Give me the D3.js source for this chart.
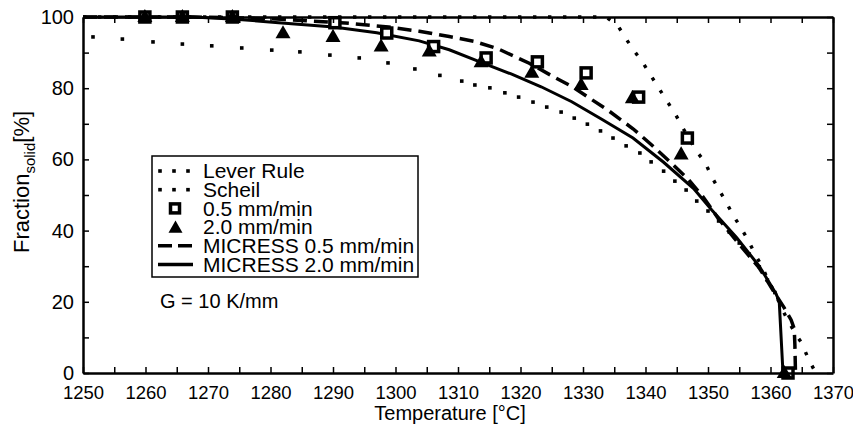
<!DOCTYPE html>
<html><head><meta charset="utf-8">
<script src="https://cdn.jsdelivr.net/npm/d3@7"></script>
<style>
body{margin:0;background:#fff}
text{font-family:"Liberation Sans",Arial,sans-serif;fill:#000}
</style>
</head><body>
<svg id="c" width="853" height="432"></svg>
<script>
// ---- data (temperature °C, fraction solid %) ----
const xTicks = [1250,1260,1270,1280,1290,1300,1310,1320,1330,1340,1350,1360,1370];
const yTicks = [0,20,40,60,80,100];
const leverRule = [[1250,100],[1333.7,100],[1335.6,97.5],[1336.8,94.1],[1338.1,90.7],[1339.5,87.4],[1340.8,83.7],[1342.1,80.1],[1343.3,76.7],[1344.6,73.3],[1345.7,69.7],[1348.1,62.4],[1349.5,59.3],[1350.6,55.1],[1351.7,51.7],[1352.9,48.0],[1354.0,44.4],[1355.3,40.7],[1356.5,37.1],[1357.5,33.4],[1358.7,29.8],[1359.6,26.1],[1360.7,22.5],[1361.6,19],[1362.5,15.7],[1364.1,10.7],[1365.0,8.4],[1366.0,4.2],[1367.1,0.5]];
const scheil = [[1251.6,94.4],[1256.3,93.8],[1261.2,93.0],[1265.9,92.4],[1270.6,91.9],[1275.4,91.3],[1280.2,90.7],[1284.7,90.2],[1289.5,89.3],[1294.2,88.5],[1298.8,87.1],[1303.1,85.4],[1307.1,83.6],[1310.6,82.0],[1312.7,80.9],[1315.1,80.1],[1317.5,78.7],[1319.7,77.5],[1322.0,76.1],[1324.2,74.7],[1326.5,73.3],[1328.6,71.6],[1330.7,69.9],[1332.8,68.0],[1334.8,66.0],[1336.9,63.8],[1339.1,61.8],[1340.9,59.3],[1342.9,56.7],[1344.7,53.9],[1346.5,51.4],[1348.2,48.3],[1350.0,45.5],[1351.7,42.7],[1353.4,39.6],[1355.0,36.5],[1356.6,33.4],[1358.2,29.8],[1359.5,26.1],[1360.7,22.6]];
const micress05 = [[1250,100],[1267.6,100],[1279.4,99.6],[1292.0,98.3],[1298.9,97.2],[1303.8,96],[1308.6,94.5],[1312.5,93.2],[1316.5,91],[1321.4,87],[1325.3,83.2],[1328.2,80.5],[1334.0,73.8],[1338.0,68.6],[1340.9,64.2],[1343.8,59.5],[1346.8,54.5],[1349.2,49.5],[1351.6,43.5],[1354.6,37],[1358.2,29.5],[1360.9,21.8],[1362.2,18.3],[1363.3,14.9],[1363.8,12.4],[1363.9,8],[1364.0,0]];
const micress20 = [[1250,100],[1267.6,100],[1274.4,99.4],[1281.3,98.4],[1290.1,97.2],[1297.0,95.6],[1303.8,93.3],[1308.6,90.8],[1313.5,87.4],[1318.5,84],[1323.3,80.4],[1328.2,76.2],[1333.0,71.3],[1338.0,66],[1342.9,59.2],[1347.7,51.8],[1350.6,45.8],[1354.6,38],[1358.2,30],[1360.9,22.2],[1361.4,20],[1362.0,0]];
const exp05T = [1259.9,1265.9,1273.9,1290.3,1298.6,1306.1,1314.5,1322.7,1330.5,1338.9,1346.7,1362.8];
const exp05F = [100,100,100,98.4,95.5,91.7,88.5,87.4,84.3,77.5,66.0,0];
const exp20T = [1259.9,1265.9,1273.9,1282.0,1290.0,1297.7,1305.4,1313.7,1321.8,1329.7,1337.9,1345.7,1362.2];
const exp20F = [100,100,100,95.4,94.4,91.7,90.3,87.3,84.3,80.9,77.2,61.4,0];
const legendLabels = ["Lever Rule","Scheil","0.5 mm/min","2.0 mm/min","MICRESS 0.5 mm/min","MICRESS 2.0 mm/min"];

// ---- drawing ----
const svg = d3.select("#c");
const x = d3.scaleLinear().domain([1250,1370]).range([83,833]);
const y = d3.scaleLinear().domain([0,100]).range([373,17]);
const line = d3.line().x(d=>x(d[0])).y(d=>y(d[1]));

const g = svg.append("g");

// curves
g.append("path").datum(micress20).attr("d",line).attr("fill","none").attr("stroke","#000").attr("stroke-width",3);
g.append("path").datum(micress05).attr("d",line).attr("fill","none").attr("stroke","#000").attr("stroke-width",3.5).attr("stroke-dasharray","14 7");
g.append("path").datum(leverRule).attr("d",line).attr("fill","none").attr("stroke","#000").attr("stroke-width",3.4).attr("stroke-dasharray","3.4 11.6");
g.selectAll(".sch").data(scheil).join("rect").attr("x",d=>x(d[0])-1.8).attr("y",d=>y(d[1])-1.8).attr("width",3.6).attr("height",3.6).attr("fill","#000");

// markers
const tri = (cx,cy,s)=>{const h=s*0.87;return `M${cx},${cy-h*0.62}L${cx+s/2},${cy+h*0.38}L${cx-s/2},${cy+h*0.38}Z`;};
g.selectAll(".sq").data(exp05T).join("rect").attr("x",d=>x(d)-5).attr("y",(d,i)=>y(exp05F[i])-5).attr("width",10).attr("height",10).attr("fill","#fff").attr("stroke","#000").attr("stroke-width",3.5);
g.selectAll(".tri").data(exp20T).join("path").attr("d",(d,i)=>tri(x(d),y(exp20F[i]),15)).attr("fill","#000");

// axes
const ax = (gen, tr, fs)=>{const a=svg.append("g").attr("transform",tr).call(gen);a.select(".domain").attr("stroke-width",2.5);a.selectAll(".tick line").attr("stroke-width",1.5);a.selectAll("text").style("font-size",fs).attr("fill","#000");return a;};
ax(d3.axisBottom(x).tickValues(d3.range(1250,1371,5)).tickSize(-6).tickSizeOuter(0).tickPadding(13).tickFormat(d=>xTicks.includes(d)?d:""),"translate(0,373)","18.5px");
ax(d3.axisTop(x).tickValues(d3.range(1250,1371,5)).tickSize(-6).tickSizeOuter(0).tickFormat(""),"translate(0,17)","18px");
ax(d3.axisLeft(y).tickValues(d3.range(0,101,10)).tickSize(-6).tickSizeOuter(0).tickPadding(9).tickFormat(d=>yTicks.includes(d)?d:""),"translate(83,0)","20px");
ax(d3.axisRight(y).tickValues(d3.range(0,101,10)).tickSize(-6).tickSizeOuter(0).tickFormat(""),"translate(833,0)","18px");

// axis titles
svg.append("text").attr("x",450).attr("y",420).attr("text-anchor","middle").style("font-size","20px").text("Temperature [°C]");
const yt = svg.append("text").attr("transform","translate(29,182) rotate(-90)").attr("text-anchor","middle").style("font-size","22px");
yt.append("tspan").text("Fraction");
yt.append("tspan").attr("dy",6).style("font-size","15px").text("solid");
yt.append("tspan").attr("dy",-6).text("[%]");

// legend
const lg = svg.append("g");
lg.append("rect").attr("x",152).attr("y",156).attr("width",266).attr("height",121).attr("fill","#fff").attr("stroke","#000").attr("stroke-width",1.5);
const rowY = i=>171+i*18.7;
legendLabels.forEach((t,i)=>lg.append("text").attr("x",203).attr("y",rowY(i)).attr("dy","0.35em").style("font-size","21px").text(t));
[0,1].forEach(i=>[160,174,188].forEach(cx=>lg.append("rect").attr("x",cx-1.8).attr("y",rowY(i)-1.8).attr("width",3.6).attr("height",3.6).attr("fill","#000")));
lg.append("rect").attr("x",170.5).attr("y",rowY(2)-4.5).attr("width",9).attr("height",9).attr("fill","#fff").attr("stroke","#000").attr("stroke-width",3.5);
lg.append("path").attr("d",tri(175.5,rowY(3)+1,14)).attr("fill","#000");
lg.append("line").attr("x1",158).attr("x2",193).attr("y1",rowY(4)).attr("y2",rowY(4)).attr("stroke","#000").attr("stroke-width",3.5).attr("stroke-dasharray","14 6");
lg.append("line").attr("x1",158).attr("x2",193).attr("y1",rowY(5)).attr("y2",rowY(5)).attr("stroke","#000").attr("stroke-width",3.5);

svg.append("text").attr("x",160).attr("y",301).attr("dy","0.35em").style("font-size","20px").text("G = 10 K/mm");
</script>
</body></html>
